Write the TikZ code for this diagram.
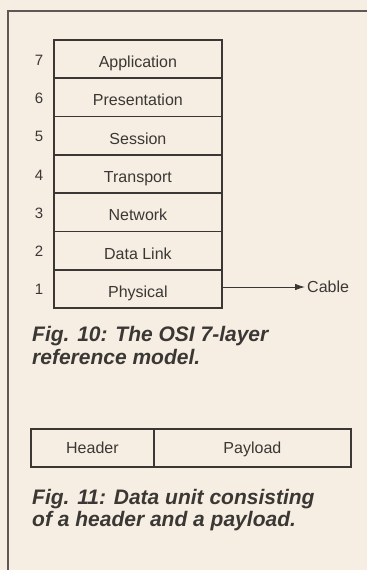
\documentclass[tikz,border=0pt]{standalone}
\usepackage{fontspec}
\setmainfont{Liberation Sans}
\usetikzlibrary{arrows.meta}
\definecolor{paper}{HTML}{F6EEE2}
\definecolor{ink}{HTML}{3A3735}
\definecolor{framec}{HTML}{5E5956}
\begin{document}
\begin{tikzpicture}[x=1pt,y=-1pt,
  layer/.style={draw=ink, line width=1.8pt, minimum width=168pt, minimum height=38.3pt,
    inner sep=0pt, text height=17pt, text depth=0pt, anchor=north west, text=ink,
    font=\fontsize{16}{18}\selectfont},
  num/.style={inner sep=0pt, text=ink, font=\fontsize{15}{18}\selectfont},
  cell/.style={draw=ink, line width=1.8pt, minimum height=38pt, inner sep=0pt,
    text height=11.5pt, text depth=0pt, anchor=north west, text=ink,
    font=\fontsize{16}{18}\selectfont},
  caption/.style={inner sep=0pt, anchor=north west, align=left, text=ink,
    font=\bfseries\itshape\fontsize{21}{22.5}\selectfont},
  framel/.style={draw=framec, line width=1.3pt}]
\fill[paper] (0,0) rectangle (367,570);
\useasboundingbox (0,0) rectangle (367,570);
\draw[framel] (367,11) -- (8,11) -- (8,570);
\foreach \n/\t [count=\k from 0] in {7/Application,6/Presentation,5/Session,4/Transport,3/Network,2/Data Link,1/Physical}{
  \node[layer] (L\n) at (53,{39+38.3*\k}) {\t};
  \node[num] (N\n) at (39,{39+38.3*\k+21}) {\n};
}
\node[inner sep=0pt, anchor=west, text=ink, font=\fontsize{16}{18}\selectfont] (cable) at (307,287) {Cable};
\draw[ink, line width=0.9pt, -{Latex[length=10pt,width=6.5pt]}, shorten >=2pt] (L1.east |- cable.west) -- (cable.west);
\node[caption] (cap10) at (32,326.5) {Fig. 10: The OSI 7-layer\\reference model.};
\node[cell, minimum width=123pt] (hdr) at (30,428) {Header};
\node[cell, minimum width=197pt] (pay) at (153,428) {Payload};
\node[caption] (cap11) at (32,489) {Fig. 11: Data unit consisting\\of a header and a payload.};
\end{tikzpicture}
\end{document}
